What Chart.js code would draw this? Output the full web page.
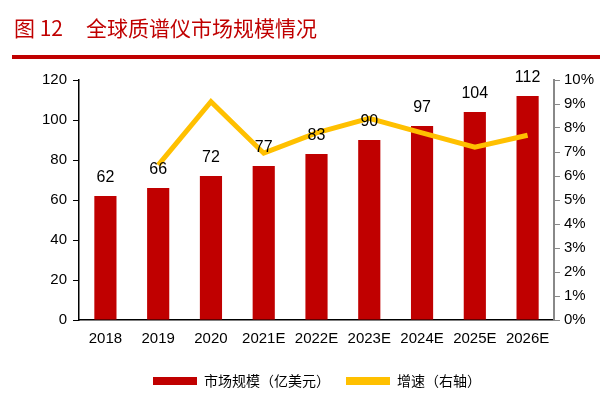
<!DOCTYPE html>
<html><head><meta charset="utf-8">
<script src="https://cdn.jsdelivr.net/npm/chart.js@4"></script>
<style>html,body{margin:0;background:#fff}#wrap{width:600px;height:400px;position:relative}</style>
</head><body><div id="wrap"><canvas id="c"></canvas></div>
<script>
const years = ['2018','2019','2020','2021E','2022E','2023E','2024E','2025E','2026E'];
const marketSize = [62,66,72,77,83,90,97,104,112];
const growth = [null,6.45,9.1,6.95,7.8,8.4,7.8,7.2,7.7];
const leftTicks = [0,20,40,60,80,100,120];

const font = "Arial, 'Liberation Sans', sans-serif";

// title + red rule above the chart
const header = {
  id: 'header',
  afterDraw(chart) {
    const ctx = chart.ctx;
    ctx.save();
    ctx.fillStyle = '#c00000';
    ctx.font = "21px 'Noto Sans CJK SC'";
    ctx.textBaseline = 'middle';
    ctx.fillText('图 12', 14, 28);
    ctx.fillText('全球质谱仪市场规模情况', 86, 28);
    ctx.fillRect(12, 55, 588, 4);
    ctx.restore();
  }
};

// value labels above bars
const barLabels = {
  id: 'barLabels',
  afterDatasetsDraw(chart) {
    const ctx = chart.ctx;
    const meta = chart.getDatasetMeta(0);
    ctx.save();
    ctx.fillStyle = '#000';
    ctx.font = '16px ' + font;
    ctx.textAlign = 'center';
    ctx.textBaseline = 'bottom';
    meta.data.forEach((bar, i) => ctx.fillText(marketSize[i], bar.x, bar.y - 10));
    ctx.restore();
  }
};

new Chart(document.getElementById('c'), {
  data: {
    labels: years,
    datasets: [
      { type: 'bar', label: '市场规模（亿美元）', data: marketSize, yAxisID: 'y',
        backgroundColor: '#c00000', barPercentage: 0.42, categoryPercentage: 1, order: 2 },
      { type: 'line', label: '增速（右轴）', data: growth, yAxisID: 'y1',
        borderColor: '#ffc000', backgroundColor: '#ffc000', borderWidth: 5,
        pointRadius: 0, tension: 0, order: 1 }
    ]
  },
  options: {
    responsive: true, maintainAspectRatio: false, animation: false,
    layout: { padding: { top: 80, left: 36, right: 2, bottom: 2 } },
    plugins: {
      tooltip: { enabled: false },
      legend: {
        position: 'bottom',
        labels: {
          font: { family: "'Noto Sans CJK SC'", size: 14 }, color: '#000',
          boxWidth: 44, boxHeight: 8, padding: 16,
          generateLabels: (chart) => chart.data.datasets.map((d, i) => ({
            text: d.label, fillStyle: d.backgroundColor, strokeStyle: d.backgroundColor,
            lineWidth: 0, datasetIndex: i
          }))
        }
      }
    },
    scales: {
      x: {
        grid: { display: false, drawTicks: false },
        border: { color: '#000', width: 1.5 },
        ticks: { color: '#000', font: { family: font, size: 15 }, padding: 10, maxRotation: 0, autoSkip: false }
      },
      y: {
        position: 'left', min: 0, max: 120,
        afterBuildTicks: (s) => { s.ticks = leftTicks.map(v => ({ value: v })); },
        grid: { drawOnChartArea: false, drawTicks: true, tickLength: 6, color: '#000' },
        border: { color: '#000', width: 1.5 },
        ticks: { color: '#000', font: { family: font, size: 15 }, padding: 6 }
      },
      y1: {
        position: 'right', min: 0, max: 10,
        grid: { drawOnChartArea: false, drawTicks: true, tickLength: 6, color: '#888' },
        border: { color: '#888', width: 2 },
        ticks: { stepSize: 1, color: '#000', font: { family: font, size: 15 }, padding: 4,
          callback: (v) => v + '%' }
      }
    }
  },
  plugins: [header, barLabels]
});
</script></body></html>
